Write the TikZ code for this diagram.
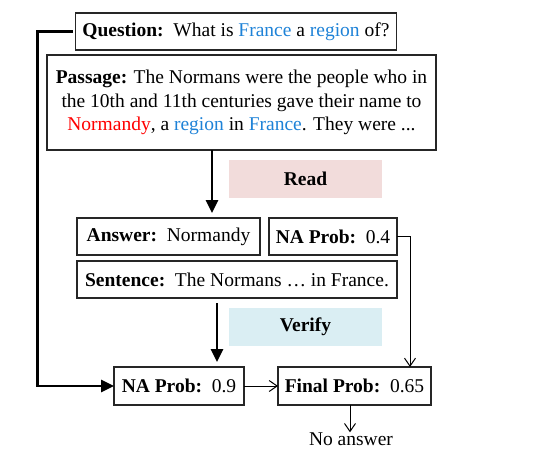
\documentclass[tikz,border=0pt]{standalone}
\usepackage{fontspec}
\setmainfont{Liberation Serif}
\usetikzlibrary{arrows.meta,calc}
\definecolor{qblue}{RGB}{30,130,215}
\definecolor{qred}{RGB}{255,0,0}
\definecolor{readfill}{RGB}{242,220,219}
\definecolor{verifyfill}{RGB}{218,238,243}
\begin{document}
\begin{tikzpicture}[x=1pt,y=-1pt,
  box/.style={draw=black!85,line width=1.3pt,inner sep=0pt,outer sep=0pt,font=\fontsize{19.5}{23.5}\selectfont},
  lab/.style={inner sep=0pt,outer sep=0pt,font=\fontsize{19.5}{23.5}\selectfont\bfseries},
  bigarrow/.style={line width=2.6pt,-{Triangle[length=13pt,width=12pt]}},
  thinarrow/.style={line width=1pt,-{Straight Barb[length=8pt,width=11pt]}}]
\useasboundingbox (0,0) rectangle (539,467);
\node[box,minimum width=321pt,minimum height=37pt] (q) at (236,31.5)
  {\textbf{Question:}\ \ What is \textcolor{qblue}{France} a \textcolor{qblue}{region} of?};
\node[box,minimum width=389pt,minimum height=95pt,align=center] (p) at (241.5,102.5)
  {\textbf{Passage:} The Normans were the people who in\\the 10th and 11th centuries gave their name to\\\textcolor{qred}{Normandy}, a \textcolor{qblue}{region} in \textcolor{qblue}{France}. They were ...};
\node[lab,fill=readfill,minimum width=153pt,minimum height=38pt] (read) at (305.5,179) {Read};
\node[box,minimum width=183pt,minimum height=37pt] (ans) at (168.5,236.5) {\textbf{Answer:}\ \ Normandy};
\node[box,minimum width=128pt,minimum height=37pt] (na4) at (333,236.5) {\textbf{NA Prob:}\ \ 0.4};
\node[box,minimum width=320pt,minimum height=37pt] (sent) at (237,279.5) {\textbf{Sentence:}\ \ The Normans … in France.};
\node[lab,fill=verifyfill,minimum width=153pt,minimum height=38pt] (ver) at (305.5,327) {Verify};
\node[box,minimum width=130pt,minimum height=38pt] (na9) at (179,386) {\textbf{NA Prob:}\ \ 0.9};
\node[box,minimum width=153pt,minimum height=38pt] (fin) at (354.5,386) {\textbf{Final Prob:}\ \ 0.65};
\node[inner sep=0pt,font=\fontsize{19.5}{23.5}\selectfont] (no) at (351,439) {No answer};
\coordinate (ra) at (212,150);
\coordinate (va) at (217,298);
\coordinate (rt) at (410,0);
\coordinate (na) at (350,0);
\draw[bigarrow,shorten >=5pt] (ra) -- (ra |- ans.north);
\draw[bigarrow,shorten <=5pt,shorten >=5pt] (va) -- (va |- na9.north);
\draw[bigarrow,line cap=butt,shorten <=3pt] (q.west) -- ++(-38,0) |- (na9.west);
\draw[thinarrow] (na4.east) -| (rt |- fin.north);
\draw[thinarrow] (na9.east) -- (fin.west);
\draw[thinarrow] (na |- fin.south) -- (na |- no.north);
\end{tikzpicture}
\end{document}
